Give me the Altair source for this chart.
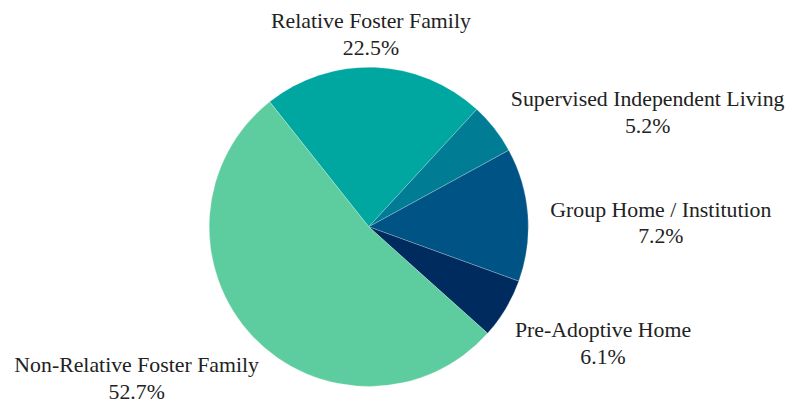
import math
import altair as alt
import pandas as pd

# ---- data ----
categories = [
    "Relative Foster Family",
    "Supervised Independent Living",
    "Group Home / Institution",
    "Pre-Adoptive Home",
    "Non-Relative Foster Family",
]
slice_share = [22.5, 5.2, 13.5, 6.1, 52.7]          # angular size of each slice
label_pct = ["22.5%", "5.2%", "7.2%", "6.1%", "52.7%"]  # printed labels
colors = ["#00a6a0", "#007c95", "#005485", "#002b5f", "#5dcc9e"]

# ---- layout constants ----
START = math.radians(-38.4)
R_PIE = 161
W, H = 722, 358

df = pd.DataFrame({
    "cat": categories,
    "share": slice_share,
    "pct": label_pct,
    "ord": list(range(len(categories))),
})

base = alt.Chart(df)

arcs = base.mark_arc(radius=R_PIE, stroke="#ffffff", strokeWidth=0.4, strokeOpacity=0.6).encode(
    theta=alt.Theta("share:Q", stack=True,
                    scale=alt.Scale(range=[START, START + 2 * math.pi])),
    order=alt.Order("ord:Q"),
    color=alt.Color("cat:N", scale=alt.Scale(domain=categories, range=colors),
                    legend=None),
)

labels = base.transform_window(
    cum="sum(share)", sort=[alt.SortField("ord")], frame=[None, 0]
).transform_joinaggregate(
    total="sum(share)"
).transform_calculate(
    a=f"{START} + 2*PI*(datum.cum - datum.share/2)/datum.total",
    hw="length(datum.cat)*4.8",
).transform_calculate(
    s="sin(datum.a)",
    c="cos(datum.a)",
).transform_calculate(
    lx=(f"datum.s > 0.35 ? 178*datum.s + 2 + datum.hw : "
        f"(datum.s < -0.35 ? max(180*datum.s - 4 - datum.hw, {-W/2 + 2} + datum.hw) "
        f": 60*datum.s)"),
    ly="206*datum.c + 1.5",
    txt="datum.cat + '\\n' + datum.pct",
).mark_text(
    lineBreak="\n", font="Liberation Serif, DejaVu Serif, serif", fontSize=22, lineHeight=27,
    color="#222222", align="center", baseline="middle",
).encode(
    x=alt.X("lx:Q", scale=alt.Scale(domain=[-W / 2, W / 2], nice=False, zero=False), axis=None),
    y=alt.Y("ly:Q", scale=alt.Scale(domain=[-H / 2, H / 2], nice=False, zero=False), axis=None),
    text="txt:N",
)

chart = alt.layer(arcs, labels).properties(
    width=W,
    height=H,
    padding={"left": 3, "top": 40, "right": 63, "bottom": 0},
    autosize=alt.AutoSizeParams(type="none"),
).configure_view(stroke=None)

chart.save("out.html", embed_options={"renderer": "svg", "actions": False})
